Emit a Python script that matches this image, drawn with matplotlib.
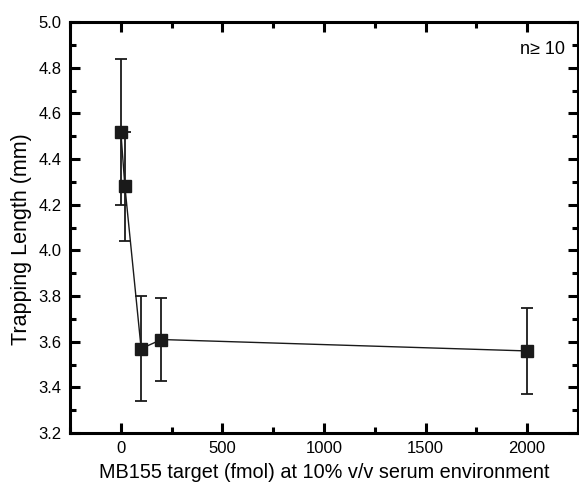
import matplotlib
matplotlib.use('Agg')
import matplotlib.pyplot as plt
from matplotlib.ticker import MultipleLocator

plt.rcParams['font.family'] = ['Liberation Sans', 'DejaVu Sans']

# data
target = [0, 20, 100, 200, 2000]
length = [4.52, 4.28, 3.57, 3.61, 3.56]
err = [0.32, 0.24, 0.23, 0.18, 0.19]

fig = plt.figure(figsize=(5.79, 4.9), dpi=100)
ax = fig.add_axes([0.121, 0.116, 0.877, 0.839])

ax.errorbar(target, length, yerr=err, color='#1a1a1a', marker='s', markersize=8.5,
            linewidth=1, elinewidth=1.3, capsize=4.5, capthick=1.3)

ax.set_xlim(-250, 2250)
ax.set_ylim(3.2, 5.0)
ax.xaxis.set_major_locator(MultipleLocator(500))
ax.xaxis.set_minor_locator(MultipleLocator(250))
ax.yaxis.set_major_locator(MultipleLocator(0.2))
ax.yaxis.set_minor_locator(MultipleLocator(0.1))
ax.yaxis.set_major_formatter(matplotlib.ticker.FormatStrFormatter('%.1f'))

for s in ax.spines.values():
    s.set_linewidth(2.2)
ax.tick_params(which='both', direction='in', top=True, right=True, labelsize=12, pad=6)
ax.tick_params(which='major', length=7, width=2.2)
ax.tick_params(which='minor', length=4, width=2.2)

ax.set_xlabel('MB155 target (fmol) at 10% v/v serum environment', fontsize=14.3, labelpad=5)
ax.set_ylabel('Trapping Length (mm)', fontsize=15.5)
ax.yaxis.set_label_coords(-0.075, 0.472)
ax.text(0.975, 0.955, 'n\u2265 10', transform=ax.transAxes, ha='right', va='top', fontsize=13)

fig.savefig('out.png', dpi=100)
